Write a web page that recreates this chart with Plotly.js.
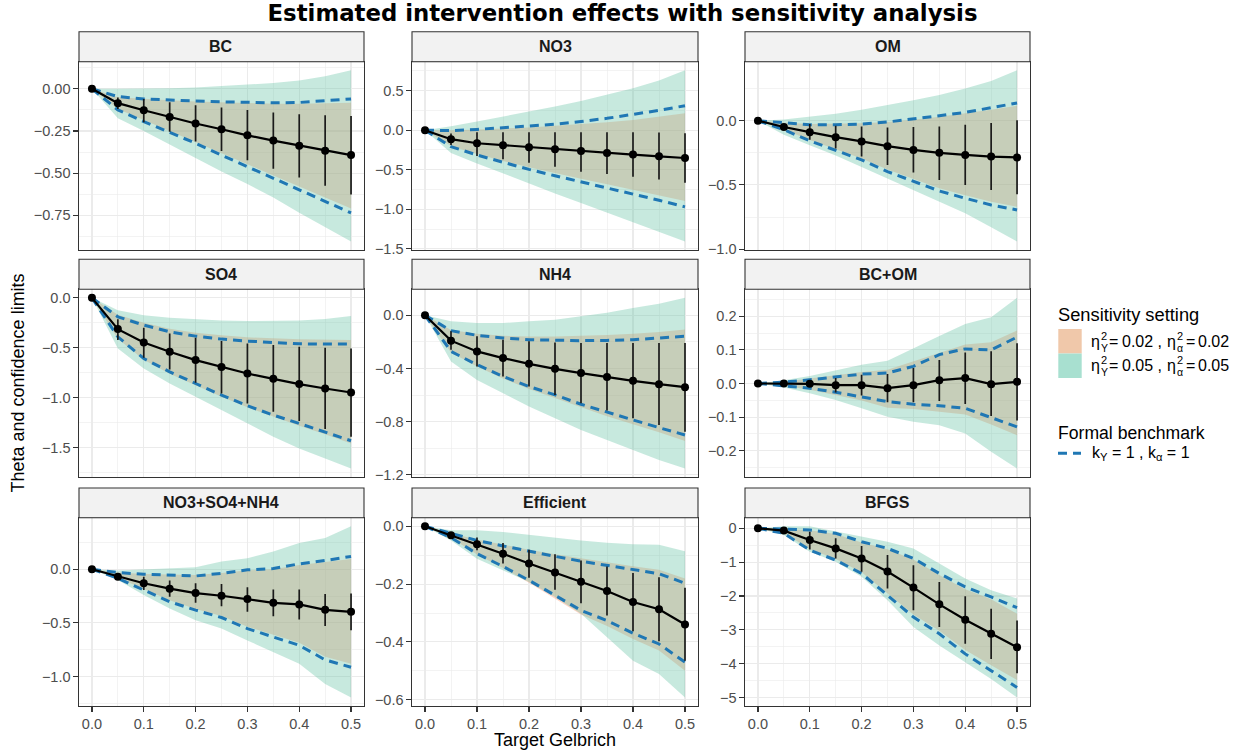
<!DOCTYPE html>
<html><head><meta charset="utf-8">
<script src="https://cdn.plot.ly/plotly-3.0.1.min.js"></script>
<style>html,body{margin:0;padding:0;background:#fff}#chart{width:1245px;height:755px}</style>
</head><body><div id="chart"></div>
<script>
// ---------------- data ----------------
const xTarget = [0, 0.05, 0.1, 0.15, 0.2, 0.25, 0.3, 0.35, 0.4, 0.45, 0.5];
const panelNames = ["BC", "NO3", "OM", "SO4", "NH4", "BC+OM", "NO3+SO4+NH4", "Efficient", "BFGS"];

const theta = [
  [0, -0.085, -0.127, -0.167, -0.206, -0.240, -0.276, -0.307, -0.337, -0.367, -0.393],
  [0, -0.114, -0.165, -0.190, -0.216, -0.240, -0.263, -0.288, -0.309, -0.330, -0.352],
  [0, -0.049, -0.089, -0.128, -0.161, -0.198, -0.227, -0.250, -0.266, -0.279, -0.286],
  [0, -0.313, -0.447, -0.540, -0.623, -0.693, -0.757, -0.810, -0.863, -0.907, -0.947],
  [0, -0.191, -0.272, -0.322, -0.365, -0.403, -0.435, -0.465, -0.493, -0.518, -0.541],
  [0, 0.000, -0.001, -0.005, -0.005, -0.014, -0.005, 0.010, 0.016, -0.002, 0.005],
  [0, -0.069, -0.131, -0.181, -0.222, -0.247, -0.278, -0.313, -0.328, -0.378, -0.397],
  [0, -0.031, -0.062, -0.095, -0.129, -0.160, -0.192, -0.224, -0.262, -0.287, -0.340],
  [0, -0.069, -0.347, -0.594, -0.891, -1.277, -1.752, -2.248, -2.703, -3.119, -3.515]
];
const ciLower = [
  [0, -0.119, -0.198, -0.254, -0.313, -0.369, -0.423, -0.474, -0.526, -0.575, -0.627],
  [0, -0.186, -0.326, -0.369, -0.411, -0.462, -0.525, -0.555, -0.589, -0.623, -0.665],
  [0, -0.070, -0.148, -0.216, -0.279, -0.344, -0.404, -0.461, -0.500, -0.539, -0.573],
  [0, -0.423, -0.600, -0.717, -0.850, -0.957, -1.057, -1.140, -1.233, -1.313, -1.390],
  [0, -0.259, -0.385, -0.460, -0.536, -0.599, -0.662, -0.717, -0.775, -0.825, -0.875],
  [0, -0.003, -0.009, -0.027, -0.036, -0.056, -0.056, -0.052, -0.061, -0.097, -0.110],
  [0, -0.100, -0.194, -0.256, -0.313, -0.344, -0.397, -0.438, -0.469, -0.528, -0.569],
  [0, -0.039, -0.083, -0.129, -0.178, -0.220, -0.266, -0.309, -0.363, -0.398, -0.465],
  [0, -0.120, -0.624, -0.891, -1.287, -1.782, -2.426, -2.921, -3.416, -3.861, -4.287]
];
const ciUpper = [
  [0, -0.052, -0.060, -0.079, -0.097, -0.111, -0.125, -0.141, -0.151, -0.157, -0.161],
  [0, -0.042, -0.025, -0.025, -0.025, -0.025, -0.025, -0.025, -0.025, -0.030, -0.038],
  [0, -0.028, -0.026, -0.039, -0.044, -0.052, -0.049, -0.044, -0.031, -0.018, 0.003],
  [0, -0.215, -0.300, -0.357, -0.400, -0.433, -0.457, -0.473, -0.490, -0.500, -0.507],
  [0, -0.121, -0.158, -0.184, -0.196, -0.204, -0.209, -0.209, -0.209, -0.209, -0.209],
  [0, 0.003, 0.006, 0.016, 0.026, 0.028, 0.046, 0.070, 0.092, 0.096, 0.120],
  [0, -0.044, -0.069, -0.106, -0.131, -0.138, -0.169, -0.188, -0.188, -0.231, -0.225],
  [0, -0.023, -0.039, -0.058, -0.081, -0.097, -0.118, -0.139, -0.162, -0.176, -0.213],
  [0, -0.030, -0.100, -0.297, -0.525, -0.792, -1.089, -1.584, -2.010, -2.376, -2.723]
];
// sensitivity eta^2 = 0.02
const sens02Lower = [
  [0, -0.120, -0.185, -0.250, -0.313, -0.380, -0.447, -0.514, -0.580, -0.645, -0.710],
  [0, -0.200, -0.300, -0.390, -0.470, -0.545, -0.615, -0.685, -0.755, -0.825, -0.894],
  [0, -0.068, -0.150, -0.225, -0.295, -0.380, -0.455, -0.525, -0.580, -0.630, -0.669],
  [0, -0.410, -0.620, -0.760, -0.875, -0.990, -1.095, -1.190, -1.280, -1.365, -1.457],
  [0, -0.280, -0.385, -0.475, -0.555, -0.625, -0.695, -0.760, -0.820, -0.880, -0.946],
  [0, -0.007, -0.019, -0.034, -0.051, -0.072, -0.076, -0.084, -0.092, -0.122, -0.154],
  [0, -0.080, -0.185, -0.290, -0.370, -0.435, -0.535, -0.610, -0.685, -0.815, -0.881],
  [0, -0.040, -0.098, -0.144, -0.195, -0.250, -0.305, -0.345, -0.390, -0.430, -0.500],
  [0, -0.140, -0.620, -0.910, -1.300, -1.920, -2.550, -3.030, -3.600, -4.050, -4.485]
];
const sens02Upper = [
  [0, -0.050, -0.060, -0.068, -0.075, -0.080, -0.085, -0.088, -0.088, -0.086, -0.082],
  [0, -0.005, 0.005, 0.020, 0.035, 0.055, 0.075, 0.100, 0.130, 0.170, 0.215],
  [0, -0.015, -0.025, -0.025, -0.020, -0.010, 0.008, 0.030, 0.055, 0.085, 0.117],
  [0, -0.170, -0.250, -0.310, -0.350, -0.375, -0.395, -0.405, -0.415, -0.420, -0.423],
  [0, -0.110, -0.140, -0.155, -0.160, -0.160, -0.155, -0.148, -0.140, -0.125, -0.108],
  [0, 0.005, 0.014, 0.024, 0.034, 0.041, 0.066, 0.091, 0.116, 0.123, 0.158],
  [0, -0.030, -0.045, -0.050, -0.055, -0.035, -0.010, 0.000, 0.040, 0.065, 0.094],
  [0, -0.024, -0.046, -0.064, -0.081, -0.097, -0.112, -0.125, -0.138, -0.150, -0.181],
  [0, -0.030, -0.060, -0.170, -0.420, -0.620, -0.920, -1.380, -1.800, -2.100, -2.525]
];
// sensitivity eta^2 = 0.05
const sens05Lower = [
  [0, -0.175, -0.250, -0.330, -0.410, -0.490, -0.565, -0.645, -0.735, -0.820, -0.905],
  [0, -0.290, -0.420, -0.550, -0.670, -0.800, -0.920, -1.040, -1.170, -1.290, -1.407],
  [0, -0.110, -0.190, -0.270, -0.360, -0.450, -0.540, -0.630, -0.720, -0.830, -0.940],
  [0, -0.507, -0.707, -0.857, -0.990, -1.123, -1.257, -1.390, -1.507, -1.607, -1.707],
  [0, -0.347, -0.486, -0.586, -0.687, -0.775, -0.863, -0.938, -1.014, -1.089, -1.152],
  [0, -0.012, -0.029, -0.049, -0.074, -0.099, -0.114, -0.124, -0.149, -0.203, -0.253],
  [0, -0.100, -0.240, -0.366, -0.475, -0.553, -0.663, -0.772, -0.881, -1.069, -1.194],
  [0, -0.049, -0.112, -0.153, -0.193, -0.245, -0.303, -0.384, -0.465, -0.511, -0.592],
  [0, -0.198, -0.693, -0.990, -1.436, -2.129, -2.921, -3.465, -3.960, -4.455, -5.000]
];
const sens05Upper = [
  [0, 0.000, 0.000, 0.003, 0.008, 0.015, 0.025, 0.035, 0.050, 0.075, 0.110],
  [0, 0.050, 0.110, 0.170, 0.235, 0.300, 0.370, 0.450, 0.530, 0.630, 0.758],
  [0, 0.010, 0.030, 0.055, 0.085, 0.120, 0.160, 0.200, 0.250, 0.310, 0.393],
  [0, -0.123, -0.173, -0.200, -0.217, -0.227, -0.233, -0.233, -0.227, -0.213, -0.183],
  [0, -0.045, -0.058, -0.058, -0.045, -0.033, -0.008, 0.018, 0.055, 0.086, 0.131],
  [0, 0.010, 0.022, 0.040, 0.056, 0.068, 0.104, 0.141, 0.177, 0.197, 0.255],
  [0, -0.013, 0.000, 0.006, 0.019, 0.072, 0.103, 0.166, 0.244, 0.291, 0.400],
  [0, -0.014, -0.014, -0.020, -0.031, -0.039, -0.049, -0.057, -0.062, -0.064, -0.086],
  [0, 0.060, 0.060, -0.099, -0.248, -0.396, -0.594, -1.040, -1.485, -1.832, -2.079]
];
// formal benchmark k = 1
const benchLower = [
  [0, -0.125, -0.194, -0.258, -0.323, -0.393, -0.462, -0.532, -0.601, -0.671, -0.736],
  [0, -0.208, -0.314, -0.407, -0.496, -0.576, -0.653, -0.729, -0.809, -0.886, -0.970],
  [0, -0.070, -0.156, -0.232, -0.305, -0.396, -0.474, -0.547, -0.604, -0.656, -0.695],
  [0, -0.390, -0.607, -0.740, -0.857, -0.973, -1.080, -1.173, -1.257, -1.340, -1.430],
  [0, -0.272, -0.372, -0.460, -0.536, -0.599, -0.669, -0.730, -0.787, -0.845, -0.900],
  [0, -0.006, -0.014, -0.026, -0.039, -0.054, -0.062, -0.066, -0.074, -0.101, -0.129],
  [0, -0.084, -0.194, -0.303, -0.381, -0.450, -0.553, -0.631, -0.709, -0.844, -0.913],
  [0, -0.039, -0.095, -0.139, -0.187, -0.239, -0.291, -0.326, -0.370, -0.407, -0.470],
  [0, -0.149, -0.644, -0.941, -1.337, -1.980, -2.624, -3.119, -3.713, -4.208, -4.703]
];
const benchUpper = [
  [0, -0.046, -0.060, -0.068, -0.073, -0.077, -0.080, -0.083, -0.081, -0.070, -0.060],
  [0, -0.005, 0.010, 0.030, 0.050, 0.075, 0.110, 0.150, 0.200, 0.250, 0.310],
  [0, -0.018, -0.031, -0.031, -0.026, -0.010, 0.013, 0.039, 0.065, 0.099, 0.138],
  [0, -0.190, -0.273, -0.340, -0.383, -0.413, -0.433, -0.450, -0.460, -0.463, -0.463],
  [0, -0.116, -0.151, -0.171, -0.184, -0.189, -0.191, -0.189, -0.184, -0.171, -0.158],
  [0, 0.004, 0.011, 0.020, 0.028, 0.031, 0.051, 0.086, 0.103, 0.100, 0.138],
  [0, -0.031, -0.047, -0.053, -0.063, -0.038, -0.006, 0.006, 0.050, 0.081, 0.119],
  [0, -0.025, -0.049, -0.068, -0.087, -0.104, -0.121, -0.135, -0.150, -0.164, -0.197],
  [0, -0.030, -0.050, -0.149, -0.396, -0.594, -0.891, -1.337, -1.733, -2.030, -2.347]
];

// ---------------- layout helpers ----------------
const W = 1245, H = 755;
const px = v => v / W, py = v => 1 - v / H;
const colPx = [[79, 364], [412, 698], [745, 1030]];
const rowPx = [[61.7, 250], [289.3, 477], [517.7, 706]];
const stripTop = [31.7, 259.3, 488];
const yStep = [0.25, 0.5, 0.5, 0.5, 0.4, 0.1, 0.5, 0.2, 1];
const yFmt = ['.2f', '.1f', '.1f', '.1f', '.1f', '.1f', '.1f', '.1f', 'd'];

const FONT = 'Liberation Sans, Arial, Helvetica, sans-serif';
const TITLE_FONT = 'DejaVu Sans, Liberation Sans, Arial, sans-serif';
const GREEN = 'rgba(102,194,165,0.37)';
const ORANGE = 'rgba(252,141,98,0.37)';
const BLUE = '#1f77b4';
const GRID = '#ebebeb';

const traces = [];
const layout = {
  width: W, height: H,
  margin: {l: 0, r: 0, t: 0, b: 0},
  paper_bgcolor: '#ffffff', plot_bgcolor: '#ffffff',
  showlegend: false,
  font: {family: FONT, color: '#1a1a1a'},
  title: {text: '<b>Estimated intervention effects with sensitivity analysis</b>',
          x: 0.5, xanchor: 'center', xref: 'container', y: 1 - 13 / H, yanchor: 'middle', yref: 'container',
          font: {family: TITLE_FONT, size: 22.8, color: '#000000'}},
  shapes: [], annotations: []
};

panelNames.forEach((name, i) => {
  const k = i + 1;
  const xa = 'x' + (k === 1 ? '' : k), ya = 'y' + (k === 1 ? '' : k);
  const r = Math.floor(i / 3), c = i % 3;
  const rev = a => a.slice().reverse();
  const xPoly = xTarget.concat(rev(xTarget));

  traces.push({type: 'scatter', mode: 'lines', x: xPoly, y: sens02Lower[i].concat(rev(sens02Upper[i])),
    fill: 'toself', fillcolor: ORANGE, line: {width: 0}, hoverinfo: 'skip', xaxis: xa, yaxis: ya});
  traces.push({type: 'scatter', mode: 'lines', x: xPoly, y: sens05Lower[i].concat(rev(sens05Upper[i])),
    fill: 'toself', fillcolor: GREEN, line: {width: 0}, hoverinfo: 'skip', xaxis: xa, yaxis: ya});
  [benchLower[i], benchUpper[i]].forEach(b => traces.push({type: 'scatter', mode: 'lines', x: xTarget, y: b,
    line: {color: BLUE, width: 3, dash: '9px,6px'}, hoverinfo: 'skip', xaxis: xa, yaxis: ya}));
  traces.push({type: 'scatter', mode: 'lines+markers', x: xTarget, y: theta[i],
    line: {color: '#000000', width: 2.2}, marker: {color: '#000000', size: 8},
    error_y: {type: 'data', symmetric: false,
      array: ciUpper[i].map((v, j) => v - theta[i][j]),
      arrayminus: theta[i].map((v, j) => v - ciLower[i][j]),
      color: '#1a1a1a', thickness: 1.7, width: 0},
    xaxis: xa, yaxis: ya});

  const all = [].concat(sens02Lower[i], sens02Upper[i], sens05Lower[i], sens05Upper[i],
    benchLower[i], benchUpper[i], ciLower[i], ciUpper[i], theta[i]);
  const lo = Math.min(...all), hi = Math.max(...all), sp = hi - lo;

  const common = {
    showgrid: true, gridcolor: GRID, gridwidth: 1.1, zeroline: false,
    showline: true, mirror: true, linecolor: '#333333', linewidth: 1.1,
    tickcolor: '#333333', tickwidth: 1.1, ticklen: 4.5,
    tickfont: {family: FONT, size: 14.5, color: '#4d4d4d'}, fixedrange: true
  };
  layout['xaxis' + (k === 1 ? '' : k)] = Object.assign({}, common, {
    domain: [px(colPx[c][0]), px(colPx[c][1])], anchor: ya,
    range: [-0.025, 0.525], tick0: 0, dtick: 0.1, tickformat: '.1f',
    ticks: r === 2 ? 'outside' : '', showticklabels: r === 2,
    minor: {tick0: 0, dtick: 0.05, showgrid: true, gridcolor: GRID, gridwidth: 0.6}
  });
  layout['yaxis' + (k === 1 ? '' : k)] = Object.assign({}, common, {
    domain: [py(rowPx[r][1]), py(rowPx[r][0])], anchor: xa,
    range: [lo - 0.05 * sp, hi + 0.05 * sp], tick0: 0, dtick: yStep[i], tickformat: yFmt[i],
    ticks: 'outside', showticklabels: true,
    minor: {tick0: 0, dtick: yStep[i] / 2, showgrid: true, gridcolor: GRID, gridwidth: 0.6}
  });

  layout.shapes.push({type: 'rect', xref: 'paper', yref: 'paper',
    x0: px(colPx[c][0]), x1: px(colPx[c][1]), y0: py(rowPx[r][0]), y1: py(stripTop[r]),
    fillcolor: '#f2f2f2', line: {color: '#333333', width: 1.1}});
  layout.annotations.push({xref: 'paper', yref: 'paper', showarrow: false,
    x: px((colPx[c][0] + colPx[c][1]) / 2), y: py((stripTop[r] + rowPx[r][0]) / 2),
    xanchor: 'center', yanchor: 'middle', text: '<b>' + name + '</b>',
    font: {family: FONT, size: 16, color: '#1a1a1a'}});
});

// axis titles
layout.annotations.push({xref: 'paper', yref: 'paper', showarrow: false, x: px(554.5), y: py(740),
  xanchor: 'center', yanchor: 'middle', text: 'Target Gelbrich', font: {family: FONT, size: 18, color: '#000'}});
layout.annotations.push({xref: 'paper', yref: 'paper', showarrow: false, x: px(17), y: py(383.5),
  xanchor: 'center', yanchor: 'middle', textangle: -90, text: 'Theta and confidence limits',
  font: {family: FONT, size: 18, color: '#000'}});

// legend (manual)
const legText = (t, x, y, size) => layout.annotations.push({xref: 'paper', yref: 'paper', showarrow: false,
  x: px(x), y: py(y), xanchor: 'left', yanchor: 'middle', text: t, borderpad: 0,
  font: {family: FONT, size: size, color: '#000'}});
legText('Sensitivity setting', 1057, 314, 18.3);
layout.shapes.push({type: 'rect', xref: 'paper', yref: 'paper', x0: px(1058.3), x1: px(1081.7),
  y0: py(353.5), y1: py(329), fillcolor: '#f0c8aa', line: {width: 0}});
layout.shapes.push({type: 'rect', xref: 'paper', yref: 'paper', x0: px(1058.3), x1: px(1081.7),
  y0: py(378), y1: py(353.5), fillcolor: '#a8e0d0', line: {width: 0}});
[['0.02', 341.5], ['0.05', 365.5]].forEach(([v, y]) => {
  legText('η', 1090, y, 16);
  legText('2', 1100, y - 6, 11);
  legText('Y', 1100, y + 6, 10.5);
  legText('=', 1108, y, 16);
  legText(v + ' ,', 1120.5, y, 16);
  legText('η', 1166, y, 16);
  legText('2', 1176, y - 6, 11);
  legText('α', 1176, y + 6, 10.5);
  legText('=', 1184.5, y, 16);
  legText(v, 1197, y, 16);
});
legText('Formal benchmark', 1057, 432.5, 17.6);
layout.shapes.push({type: 'line', xref: 'paper', yref: 'paper', x0: px(1058), x1: px(1081),
  y0: py(453.3), y1: py(453.3), line: {color: BLUE, width: 3, dash: '9px,6px'}});
legText('k<sub>Y</sub> = 1 , k<sub>α</sub> = 1', 1091, 453, 16);

Plotly.newPlot('chart', traces, layout, {displayModeBar: false, staticPlot: true});
</script>
</body></html>
